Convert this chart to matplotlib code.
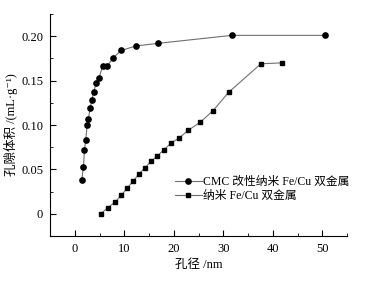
import matplotlib.pyplot as plt
from matplotlib.ticker import MultipleLocator

plt.rcParams["font.family"] = ["Liberation Serif", "Noto Sans CJK SC", "DejaVu Serif"]

# CMC modified nano Fe/Cu
cmc_x = [1.4, 1.75, 1.95, 2.2, 2.5, 2.75, 3.1, 3.45, 3.8, 4.3, 4.9, 5.6, 6.5,
         7.8, 9.4, 12.3, 16.8, 31.7, 50.5]
cmc_y = [0.038, 0.053, 0.072, 0.083, 0.100, 0.107, 0.119, 0.128, 0.137,
         0.147, 0.153, 0.166, 0.166, 0.176, 0.184, 0.189, 0.192, 0.201, 0.201]

# nano Fe/Cu
fe_x = [5.2, 6.7, 8.2, 9.4, 10.6, 11.8, 13.0, 14.2, 15.4, 16.6, 18.0, 19.5,
        21.0, 22.9, 25.3, 27.9, 31.1, 37.6, 41.8]
fe_y = [0.0, 0.007, 0.0135, 0.021, 0.029, 0.037, 0.045, 0.052, 0.059, 0.065,
        0.072, 0.080, 0.085, 0.094, 0.103, 0.116, 0.137, 0.169, 0.170]

labels = ["CMC 改性纳米 Fe/Cu 双金属", "纳米 Fe/Cu 双金属"]

fig = plt.figure(figsize=(3.68, 2.81), dpi=100)
ax = fig.add_axes([0.136, 0.160, 0.807, 0.790])

ax.plot(cmc_x, cmc_y, color="#707070", lw=0.8, marker="o", ms=3.8,
        mfc="black", mec="black", label=labels[0])
ax.plot(fe_x, fe_y, color="#707070", lw=0.8, marker="s", ms=3.3,
        mfc="black", mec="black", label=labels[1])

ax.set_xlim(-5, 55)
ax.set_ylim(-0.025, 0.225)
ax.xaxis.set_major_locator(MultipleLocator(10))
ax.xaxis.set_minor_locator(MultipleLocator(5))
ax.yaxis.set_minor_locator(MultipleLocator(0.025))
ax.set_yticks([0, 0.05, 0.10, 0.15, 0.20])
ax.set_yticklabels(["0", "0.05", "0.10", "0.15", "0.20"])

ax.spines["top"].set_visible(False)
ax.spines["right"].set_visible(False)
ax.tick_params(which="both", direction="in", labelsize=9, color="black")
ax.tick_params(which="major", length=4, pad=5)
ax.tick_params(which="minor", length=2.5)

ax.set_xlabel("孔径 /nm", fontsize=9, labelpad=3)
ax.set_ylabel("孔隙体积 /(mL·g⁻¹)", fontsize=9, labelpad=2.5)

ax.legend(loc="upper left", bbox_to_anchor=(0.42, 0.27), frameon=False,
          fontsize=8.5, handlelength=2.3, handletextpad=0.1,
          borderpad=0, borderaxespad=0, labelspacing=0.15)

fig.savefig("out.png", dpi=100)
